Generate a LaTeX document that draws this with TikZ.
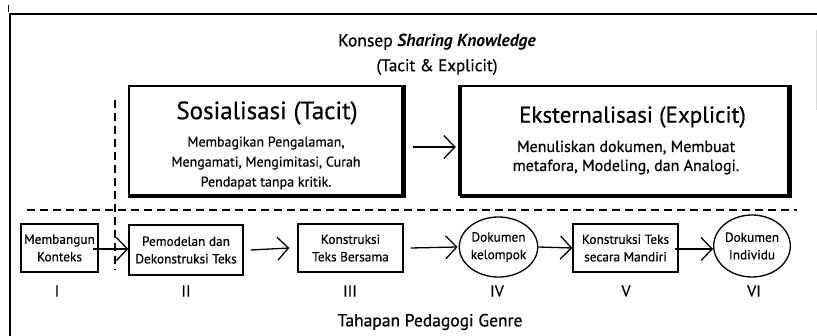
\documentclass[tikz,border=0pt]{standalone}
\usepackage{fontspec}
\setmainfont{PT Sans}[UprightFeatures={FakeBold=0.6}]
\usetikzlibrary{arrows.meta,shapes.geometric}
\begin{document}
\begin{tikzpicture}[x=1pt,y=-1pt,
  bigbox/.style={draw,line width=2.5pt,minimum width=#1,minimum height=109pt,inner sep=0pt},
  stepbox/.style={draw,line width=1.3pt,align=center,inner sep=0pt,font=\fontsize{13.3}{17.5}\selectfont},
  docell/.style={draw,ellipse,line width=1.3pt,align=center,inner sep=0pt,font=\fontsize{13.3}{17.5}\selectfont},
  flow/.style={line width=1.3pt,-{Straight Barb[length=11pt,width=23pt,line width=1.3pt]}},
  roman/.style={font=\fontsize{16}{18}\selectfont},
  sep/.style={line width=2pt,dash pattern=on 8pt off 5pt}
]
\useasboundingbox (0,0) rectangle (817,336);
% frame
\draw[line width=2.5pt] (10,336) -- (10,14) -- (817,14);
\draw[line width=1pt] (8.5,5) -- (8.5,12);
\draw[line width=0.8pt,black!15] (816,30) -- (816,110);
% title
\node (title) at (437,42) {\fontsize{17.5}{19}\selectfont Konsep \textbf{\textit{Sharing Knowledge}}};
\node (subtitle) at (437,67) {\fontsize{17}{19}\selectfont (Tacit \& Explicit)};
% top boxes
\node[bigbox=273pt] (sos) at (265.5,140.5) {};
\draw[line width=4.5pt] (sos.north east) -- (sos.south east) -- (sos.south west);
\node (sost) at (267,113) {\fontsize{25}{28}\selectfont Sosialisasi (Tacit)};
\node[align=center,font=\fontsize{14}{20}\selectfont] (sosb) at (266,163) {Membagikan Pengalaman,\\Mengamati, Mengimitasi, Curah\\Pendapat tanpa kritik.};
\node[bigbox=327pt] (eks) at (624.5,140.5) {};
\draw[line width=4.5pt] (eks.north east) -- (eks.south east) -- (eks.south west);
\draw[line width=4.5pt] (eks.north west) -- (eks.south west);
\node (ekst) at (632.5,117) {\fontsize{23}{26}\selectfont Eksternalisasi (Explicit)};
\node[align=center,font=\fontsize{16}{19}\selectfont] (eksb) at (626,157.5) {Menuliskan dokumen, Membuat\\metafora, Modeling, dan Analogi.};
\coordinate (a1) at (413,147);
\draw[flow] (a1) -- ([xshift=-4pt]eks.west |- a1);
% dashed separators
\draw[sep] (115,100) -- (115,270);
\draw[sep] (27,210) -- (797,210);
% bottom steps
\node[stepbox,minimum width=77pt,minimum height=48pt] (s1) at (59.5,248) {Membangun\\Konteks};
\node[stepbox,minimum width=114pt,minimum height=50pt] (s2) at (186,250) {Pemodelan dan\\Dekonstruksi Teks};
\node[stepbox,minimum width=105pt,minimum height=48pt] (s3) at (350.5,248) {Konstruksi\\Teks Bersama};
\node[docell,minimum width=77pt,minimum height=60pt] (s4) at (498.5,247) {Dokumen\\kelompok};
\node[stepbox,minimum width=105pt,minimum height=48pt] (s5) at (625.5,248) {Konstruksi Teks\\secara Mandiri};
\node[docell,minimum width=74pt,minimum height=62pt] (s6) at (752,246) {Dokumen\\Individu};
\coordinate (c1) at (93,249);
\draw[flow] (c1) -- (s2.west |- c1);
\draw[flow] ([xshift=7pt]s2.east) -- ([xshift=-8pt]s3.west);
\draw[flow] ([xshift=7pt]s3.east) -- ([xshift=-1pt]s4.west);
\draw[flow] (s4.east) -- (s5.west);
\coordinate (c5) at (675,249);
\draw[flow] (c5) -- (s6.west |- c5);
% roman numerals
\node[roman] (r1) at (57,291) {I};
\node[roman] (r2) at (186,291) {II};
\node[roman] (r3) at (350,291) {III};
\node[roman] (r4) at (497,291) {IV};
\node[roman] (r5) at (626,291) {V};
\node[roman] (r6) at (754,291) {VI};
\node (foot) at (430,322) {\fontsize{17.5}{20}\selectfont Tahapan Pedagogi Genre};
\end{tikzpicture}
\end{document}
